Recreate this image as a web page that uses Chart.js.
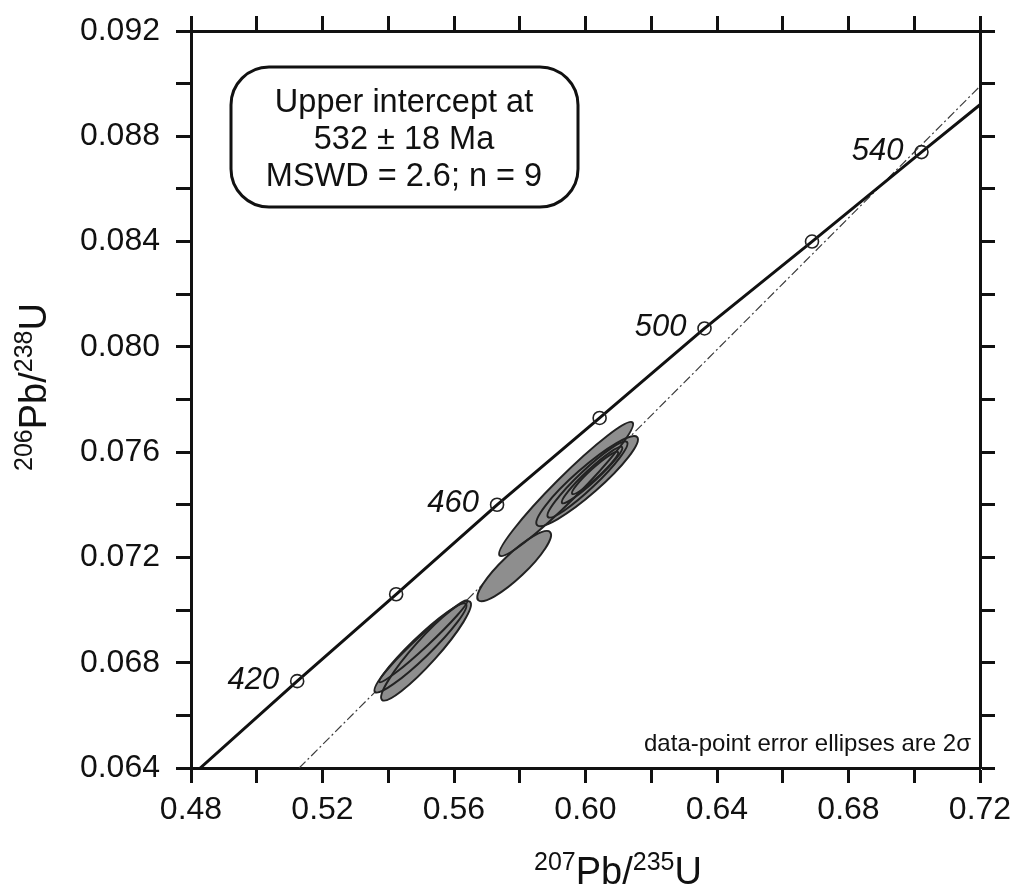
<!DOCTYPE html>
<html>
<head>
<meta charset="utf-8">
<script src="https://cdn.jsdelivr.net/npm/chart.js@4.4.1/dist/chart.umd.min.js"></script>
<style>
    html, body { margin: 0; padding: 0; background: #fff; }
    #wrap { width: 1013px; height: 884px; }
</style>
</head>
<body>
<div id="wrap"><canvas id="concordia" width="1013" height="884"></canvas></div>
<script>
// Concordia curve (207Pb/235U, 206Pb/238U)
const concordiaX = [0.4828, 0.5123, 0.5424, 0.5731, 0.6043, 0.6362, 0.6689, 0.7022, 0.7200];
const concordiaY = [0.0640, 0.0673, 0.0706, 0.0740, 0.0773, 0.0807, 0.0840, 0.0874, 0.0892];

// Age markers on the concordia (Ma)
const markerAges = [420, 440, 460, 480, 500, 520, 540];
const markerX = [0.5123, 0.5424, 0.5731, 0.6043, 0.6362, 0.6689, 0.7022];
const markerY = [0.0673, 0.0706, 0.0740, 0.0773, 0.0807, 0.0840, 0.0874];
const labelledAges = [420, 460, 500, 540];

// Discordia (dash-dot) end points
const discordiaX = [0.5129, 0.7200];
const discordiaY = [0.0640, 0.0899];

// Error ellipses: centre, 2-sigma half widths, correlation
const ellipseX = [0.5941, 0.6005, 0.6006, 0.6020, 0.6029, 0.5783, 0.5515, 0.5498, 0.5507];
const ellipseY = [0.07460, 0.07490, 0.07496, 0.07513, 0.07521, 0.07167, 0.06845, 0.06856, 0.06882];
const ellipseErrX = [0.02038, 0.01545, 0.01217, 0.00922, 0.00703, 0.01122, 0.01366, 0.01399, 0.01341];
const ellipseErrY = [0.002546, 0.00171, 0.001448, 0.001075, 0.000806, 0.001334, 0.001888, 0.001694, 0.001562];
const ellipseRho = [0.968, 0.926, 0.946, 0.957, 0.952, 0.889, 0.935, 0.951, 0.981];

const xTickLabels = ["0.48", "0.52", "0.56", "0.60", "0.64", "0.68", "0.72"];
const yTickLabels = ["0.064", "0.068", "0.072", "0.076", "0.080", "0.084", "0.088", "0.092"];

const boxLines = ["Upper intercept at", "532 \u00b1 18 Ma", "MSWD = 2.6; n = 9"];
const noteText = "data-point error ellipses are 2\u03c3";

const ink = "#111111";
const fontFamily = "'Liberation Sans', Arial, Helvetica, sans-serif";

function zipPoints(xs, ys) {
    return xs.map((x, i) => ({ x, y: ys[i] }));
}

function roundRect(ctx, x, y, w, h, r) {
    ctx.beginPath();
    ctx.moveTo(x + r, y);
    ctx.lineTo(x + w - r, y);
    ctx.arcTo(x + w, y, x + w, y + r, r);
    ctx.lineTo(x + w, y + h - r);
    ctx.arcTo(x + w, y + h, x + w - r, y + h, r);
    ctx.lineTo(x + r, y + h);
    ctx.arcTo(x, y + h, x, y + h - r, r);
    ctx.lineTo(x, y + r);
    ctx.arcTo(x, y, x + r, y, r);
    ctx.closePath();
}

// text with superscript parts, centred on cx, baseline at by
function drawSupText(ctx, parts, cx, by) {
    const big = "38px " + fontFamily;
    const small = "25px " + fontFamily;
    let total = 0;
    parts.forEach((p) => {
        ctx.font = p.sup ? small : big;
        total += ctx.measureText(p.t).width;
    });
    let x = cx - total / 2;
    ctx.textAlign = "left";
    ctx.textBaseline = "alphabetic";
    parts.forEach((p) => {
        ctx.font = p.sup ? small : big;
        ctx.fillText(p.t, x, p.sup ? by - 14 : by);
        x += ctx.measureText(p.t).width;
    });
}

const overlayPlugin = {
    id: "overlay",
    afterDatasetsDraw(chart) {
        const { ctx, scales: { x, y } } = chart;
        ctx.save();

        // error ellipses
        const shapes = ellipseX.map((cx, i) => {
            const px = x.getPixelForValue(cx);
            const py = y.getPixelForValue(ellipseY[i]);
            const sx = Math.abs(x.getPixelForValue(cx + ellipseErrX[i]) - px);
            const sy = Math.abs(y.getPixelForValue(ellipseY[i] + ellipseErrY[i]) - py);
            const sxx = sx * sx, syy = sy * sy, sxy = ellipseRho[i] * sx * sy;
            const mid = (sxx + syy) / 2;
            const d = Math.sqrt(((sxx - syy) / 2) ** 2 + sxy * sxy);
            return {
                px, py,
                a: Math.sqrt(mid + d),
                b: Math.sqrt(Math.max(mid - d, 0.5)),
                theta: 0.5 * Math.atan2(2 * sxy, sxx - syy)
            };
        });
        ctx.fillStyle = "#8e8e8e";
        shapes.forEach((s) => {
            ctx.beginPath();
            ctx.ellipse(s.px, s.py, s.a, s.b, -s.theta, 0, Math.PI * 2);
            ctx.fill();
        });
        ctx.strokeStyle = "#222222";
        ctx.lineWidth = 2;
        shapes.forEach((s) => {
            ctx.beginPath();
            ctx.ellipse(s.px, s.py, s.a, s.b, -s.theta, 0, Math.PI * 2);
            ctx.stroke();
        });

        // age labels
        ctx.fillStyle = ink;
        ctx.font = "italic 31px " + fontFamily;
        ctx.textAlign = "right";
        ctx.textBaseline = "middle";
        labelledAges.forEach((age) => {
            const i = markerAges.indexOf(age);
            ctx.fillText(String(age), x.getPixelForValue(markerX[i]) - 18, y.getPixelForValue(markerY[i]) - 1);
        });

        // note at bottom right
        ctx.font = "24px " + fontFamily;
        ctx.textBaseline = "alphabetic";
        ctx.fillText(noteText, chart.chartArea.right - 9, 751);

        // result box
        ctx.lineWidth = 3;
        ctx.strokeStyle = ink;
        roundRect(ctx, 231, 67, 347, 140, 38);
        ctx.stroke();
        ctx.font = "32.5px " + fontFamily;
        ctx.textAlign = "center";
        ctx.textBaseline = "middle";
        boxLines.forEach((line, i) => ctx.fillText(line, 404, 103 + i * 37));

        ctx.restore();
    },
    afterDraw(chart) {
        const { ctx } = chart;
        ctx.save();
        ctx.fillStyle = ink;
        drawSupText(ctx, [{ t: "207", sup: true }, { t: "Pb/" }, { t: "235", sup: true }, { t: "U" }], 618, 884);
        ctx.translate(46, 387);
        ctx.rotate(-Math.PI / 2);
        drawSupText(ctx, [{ t: "206", sup: true }, { t: "Pb/" }, { t: "238", sup: true }, { t: "U" }], 0, 0);
        ctx.restore();
    }
};

function axisGrid() {
    return {
        display: true,
        drawOnChartArea: false,
        drawTicks: true,
        tickLength: 15,
        tickWidth: 3,
        color: ink
    };
}

// pin every axis box to a fixed size and drop the label overhang padding
function fixBox(width, height) {
    return (scale) => {
        if (width !== null) scale.width = width;
        if (height !== null) scale.height = height;
        scale.paddingLeft = 0;
        scale.paddingRight = 0;
        scale.paddingTop = 0;
        scale.paddingBottom = 0;
    };
}

function createChart() {
    Chart.defaults.font.family = fontFamily;
    Chart.defaults.color = ink;

    new Chart(document.getElementById("concordia"), {
        type: "scatter",
        data: {
            datasets: [
                {
                    label: "Discordia",
                    data: zipPoints(discordiaX, discordiaY),
                    showLine: true,
                    borderColor: "#3c3c3c",
                    borderWidth: 1.2,
                    borderDash: [9, 3, 2, 3],
                    pointRadius: 0,
                    order: 3
                },
                {
                    label: "Concordia",
                    data: zipPoints(concordiaX, concordiaY),
                    showLine: true,
                    borderColor: ink,
                    borderWidth: 3,
                    pointRadius: 0,
                    tension: 0,
                    order: 2
                },
                {
                    label: "Ages",
                    data: zipPoints(markerX, markerY),
                    showLine: false,
                    pointRadius: 6.5,
                    pointBorderWidth: 1.6,
                    pointBorderColor: "#222222",
                    pointBackgroundColor: "rgba(0,0,0,0)",
                    order: 1
                }
            ]
        },
        options: {
            responsive: false,
            animation: false,
            layout: { padding: 0 },
            plugins: {
                legend: { display: false },
                tooltip: { enabled: false }
            },
            scales: {
                x: {
                    type: "linear",
                    position: "bottom",
                    min: 0.48,
                    max: 0.72,
                    border: { display: true, color: ink, width: 3 },
                    grid: axisGrid(),
                    ticks: {
                        stepSize: 0.02,
                        autoSkip: false,
                        maxRotation: 0,
                        padding: 8,
                        font: { size: 32 },
                        color: ink,
                        callback: (value) => {
                            const s = value.toFixed(2);
                            return xTickLabels.includes(s) ? s : "";
                        }
                    },
                    afterFit: fixBox(null, 116)
                },
                x2: {
                    type: "linear",
                    position: "top",
                    min: 0.48,
                    max: 0.72,
                    border: { display: true, color: ink, width: 3 },
                    grid: axisGrid(),
                    ticks: { stepSize: 0.02, autoSkip: false, display: false },
                    afterFit: fixBox(null, 31)
                },
                y: {
                    type: "linear",
                    position: "left",
                    min: 0.064,
                    max: 0.092,
                    border: { display: true, color: ink, width: 3 },
                    grid: axisGrid(),
                    ticks: {
                        stepSize: 0.002,
                        autoSkip: false,
                        padding: 16,
                        font: { size: 32 },
                        color: ink,
                        callback: (value) => {
                            const s = value.toFixed(3);
                            return yTickLabels.includes(s) ? s : "";
                        }
                    },
                    afterFit: fixBox(191, null)
                },
                y2: {
                    type: "linear",
                    position: "right",
                    min: 0.064,
                    max: 0.092,
                    border: { display: true, color: ink, width: 3 },
                    grid: axisGrid(),
                    ticks: { stepSize: 0.002, autoSkip: false, display: false },
                    afterFit: fixBox(33, null)
                }
            }
        },
        plugins: [overlayPlugin]
    });
}

createChart();
</script>
</body>
</html>
